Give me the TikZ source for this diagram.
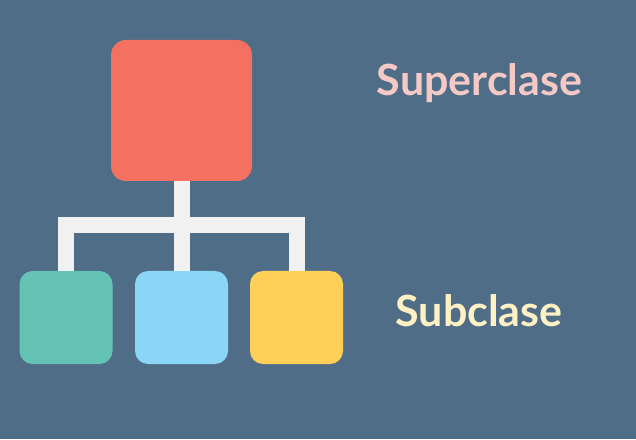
\documentclass[tikz,border=0pt]{standalone}
\usepackage{fontspec}
\setmainfont{Lato}
\usepackage{tikz}
\usetikzlibrary{calc}

\definecolor{slate}{HTML}{4F6D87}
\definecolor{supred}{HTML}{F47060}
\definecolor{subteal}{HTML}{65C3B6}
\definecolor{subblue}{HTML}{8BD6F7}
\definecolor{subyellow}{HTML}{FFCF58}
\definecolor{barwhite}{HTML}{F1F1F1}
\definecolor{suptext}{HTML}{F5C9C6}
\definecolor{subtext}{HTML}{FFF1C4}

\tikzset{
    classbox/.style={rounded corners=13pt, inner sep=0pt, minimum size=93pt},
    link/.style={draw=barwhite, line width=16pt},
    label/.style={font=\bfseries\fontsize{43}{45}\selectfont, anchor=base}
}

\begin{document}
\begin{tikzpicture}[x=1pt, y=1pt]
    \fill[slate] (0,0) rectangle (636,439);
    \useasboundingbox (0,0) rectangle (636,439);

    \node[classbox, fill=supred, minimum size=141pt, rounded corners=15pt] (super) at (181.5,328.5) {};
    \node[classbox, fill=subteal] (subA) at (66,121.5) {};
    \node[classbox, fill=subblue] (subB) at (181.5,121.5) {};
    \node[classbox, fill=subyellow] (subC) at (296.5,121.5) {};

    \coordinate (hub) at (181.5,213.5);
    \draw[link] (subA.north) |- (hub) -| (subC.north);
    \draw[link] (super.south) -- (subB.north);

    \node[label, text=suptext] (suplabel) at (479.5,343) {Superclase};
    \node[label, text=subtext] (sublabel) at (479,113) {Subclase};
\end{tikzpicture}
\end{document}
